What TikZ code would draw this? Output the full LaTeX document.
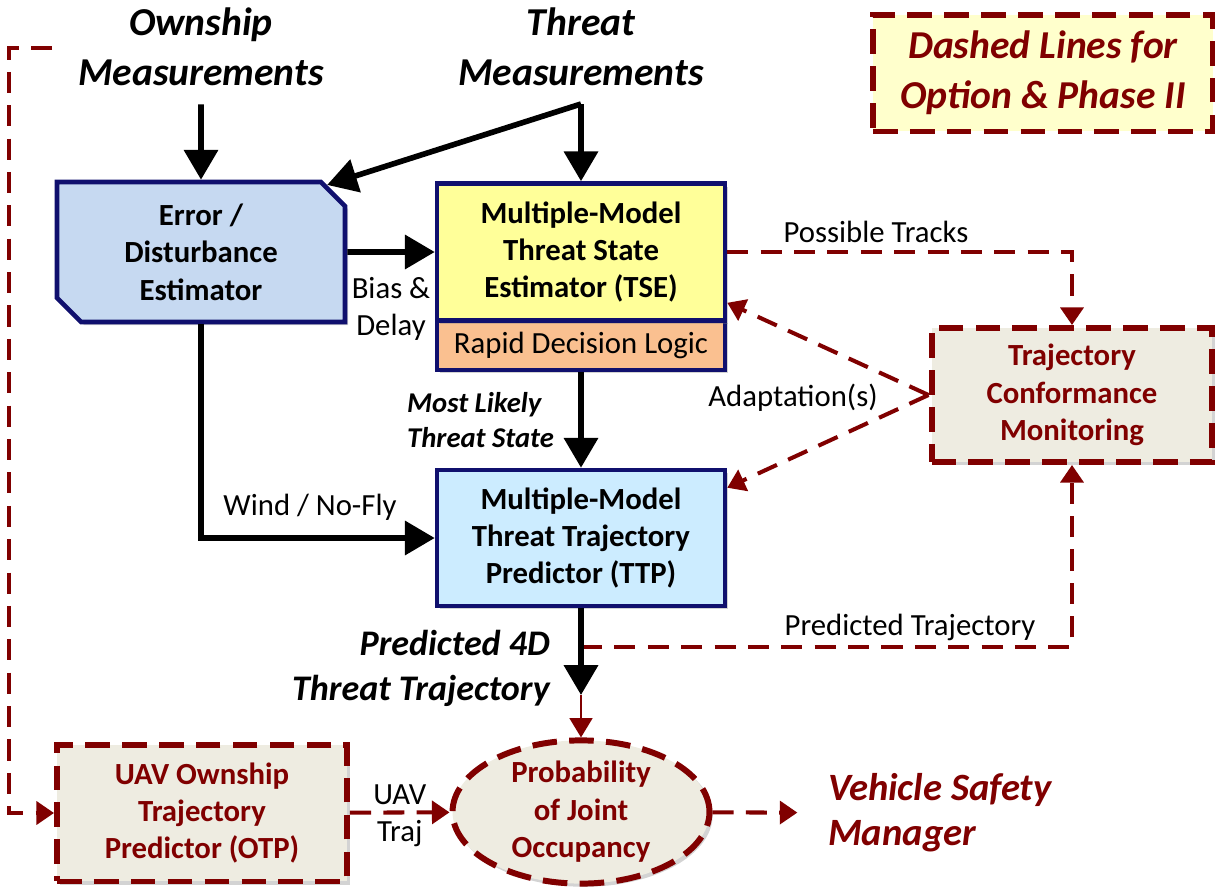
\documentclass[tikz,border=0pt]{standalone}
\usepackage{fontspec}
\setmainfont{Carlito}
\usetikzlibrary{arrows.meta, shapes.geometric, shapes.misc, shadows}

\definecolor{navy}{RGB}{16,16,110}
\definecolor{darkred}{RGB}{128,0,0}
\definecolor{edblue}{RGB}{198,217,241}
\definecolor{tseyellow}{RGB}{255,255,153}
\definecolor{rdlorange}{RGB}{250,192,144}
\definecolor{ttpblue}{RGB}{204,236,255}
\definecolor{optgray}{RGB}{238,236,225}
\definecolor{legendyellow}{RGB}{255,255,204}

\newcommand{\lblfont}{\fontsize{17.5}{21.3}\selectfont}
\newcommand{\toplblfont}{\fontsize{22.5}{28.3}\selectfont}
\newcommand{\midlblfont}{\fontsize{20.5}{25.5}\selectfont}
\newcommand{\smlblfont}{\fontsize{16.3}{19.8}\selectfont}

\begin{document}
\begin{tikzpicture}[x=0.02cm, y=-0.02cm, font=\lblfont,
  blkarrow/.style={line width=3.2pt, -{Triangle[length=17pt, width=19pt]}},
  redline/.style={draw=darkred, line width=2.3pt, dash pattern=on 12pt off 7pt,
                  -{Triangle[length=10pt, width=13pt]}},
  redthin/.style={draw=darkred, line width=1.3pt, -{Triangle[length=11pt, width=13pt]}},
  navybox/.style={draw=navy, line width=2.6pt, align=center, font=\lblfont\bfseries,
                  minimum width=5.76cm, inner sep=2pt,
                  drop shadow={opacity=0.35, shadow xshift=1.8pt, shadow yshift=-1.8pt}},
  optbox/.style={draw=darkred, fill=optgray, line width=3.4pt, dash pattern=on 14pt off 7pt,
                 text=darkred, align=center, font=\lblfont\bfseries,
                 drop shadow={opacity=0.35, shadow xshift=1.8pt, shadow yshift=-1.8pt}},
  toplbl/.style={font=\toplblfont\bfseries\itshape, align=center},
  sublbl/.style={font=\smlblfont\bfseries\itshape},
  lbl/.style={font=\lblfont, align=center}]

\useasboundingbox (0,0) rectangle (1215,893);

% Inputs and legend
\node[toplbl] (own) at (201,47) {Ownship\\Measurements};
\node[toplbl] (thr) at (581,47) {Threat\\Measurements};
\node[toplbl, text=darkred, draw=darkred, fill=legendyellow, line width=3.4pt,
      dash pattern=on 14pt off 7pt, minimum width=6.8cm, minimum height=2.34cm]
      (leg) at (1043,73) {Dashed Lines for\\Option \& Phase II};

% Blocks
\node[navybox, fill=edblue, chamfered rectangle, chamfered rectangle corners={north east, south west},
      chamfered rectangle sep=0.24cm, minimum height=2.8cm] (ed) at (201,252) {Error /\\Disturbance\\Estimator};
\node[navybox, fill=rdlorange, font=\lblfont, minimum height=1.0cm] (rdl) at (581,345) {Rapid Decision Logic};
\node[navybox, fill=tseyellow, minimum height=2.74cm] (tse) at (581,252) {Multiple-Model\\Threat State\\Estimator (TSE)};
\node[navybox, fill=ttpblue, minimum height=2.72cm] (ttp) at (581,538) {Multiple-Model\\Threat Trajectory\\Predictor (TTP)};
\node[optbox, minimum width=5.62cm, minimum height=2.68cm] (tcm) at (1072,395) {Trajectory\\Conformance\\Monitoring};
\node[optbox, minimum width=5.8cm, minimum height=2.74cm] (otp) at (202,813) {UAV Ownship\\Trajectory\\Predictor (OTP)};
\node[optbox, ellipse, minimum width=5.14cm, minimum height=2.78cm, inner sep=0pt] (ocp) at (581,812) {Probability\\of Joint\\Occupancy};
\node[font=\fontsize{22}{25.5}\selectfont\bfseries\itshape, text=darkred, align=left, anchor=west]
      (vsm) at (822,813) {Vehicle Safety\\Manager};

% Labels
\node[lbl] (bias) at (391,309) {Bias \&\\Delay};
\node[sublbl, align=left, anchor=west] (mlts) at (401,420) {Most Likely\\Threat State};
\node[lbl] (wind) at (310,507) {Wind / No-Fly};
\node[lbl] (ptk) at (876,232) {Possible Tracks};
\node[lbl] (adp) at (793,398) {Adaptation(s)};
\node[lbl] (ptj) at (910,627) {Predicted Trajectory};
\node[font=\midlblfont\bfseries\itshape, align=right, anchor=east] (p4d) at (556,668) {Predicted 4D\\Threat Trajectory};

\coordinate (tsplit) at (581,104);
\coordinate (ttpend) at (581,695);
\coordinate (ptstart) at (581,647);
\coordinate (fbstart) at (52,48);

% Dashed (option) connectors
\draw[redline] (tse) -| (tcm);
\draw[redline] (tcm.west) -- ([yshift=0.4cm]tse.south east);
\draw[redline] (tcm.west) -- ([yshift=-0.4cm]ttp.north east);
\draw[redline] (ptstart) -| (tcm);
\draw[redline] (otp) -- (ocp) node[midway, above, lbl] {UAV} node[midway, below, lbl] {Traj};
\draw[redline, shorten >=14pt] (ocp) -- (vsm);
\draw[redline] (fbstart) -| ([xshift=-0.9cm]otp.west) -- (otp);
\draw[redthin] (ttpend) -- (ocp);

% Solid connectors
\draw[blkarrow, shorten <=7pt] (own) -- (ed);
\draw[blkarrow] (tsplit) -- (tse);
\draw[blkarrow] (tsplit) -- (ed.28);
\draw[blkarrow] (ed) -- (tse);
\draw[blkarrow] (rdl) -- (ttp);
\draw[blkarrow] (ed) |- (ttp);
\draw[blkarrow] (ttp) -- (ttpend);

\end{tikzpicture}
\end{document}
